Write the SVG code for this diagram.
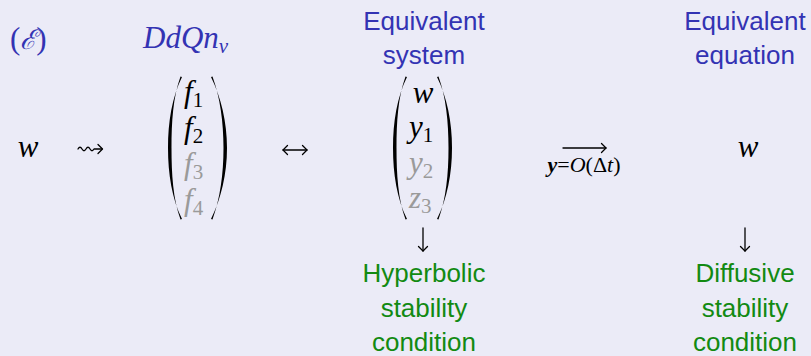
<svg xmlns="http://www.w3.org/2000/svg" width="811" height="356" viewBox="0 0 811 356">
<style>
.m{font-family:"Liberation Serif","DejaVu Serif",serif;font-style:italic;font-size:31px;fill:#000}
.sub{font-size:21px;font-style:normal}
.subi{font-size:21px;font-style:italic}
.g{fill:#9a9a9a}
.blue{fill:#3333B3}
.s{font-family:"Liberation Sans","DejaVu Sans",sans-serif;font-size:26px;text-anchor:middle}
.green{fill:#128a12}
.par{fill:#000;stroke:none}
.ln{stroke:#000;stroke-width:1.3;fill:none;stroke-linecap:round;stroke-linejoin:round}
</style>
<rect width="811" height="356" fill="#EBEBF7"/>

<g id="label-E">
<text class="m blue" x="10" y="49"><tspan style="font-style:normal">(</tspan><tspan style="font-family:'DejaVu Serif',serif;font-size:27px;font-style:italic">ℰ</tspan><tspan style="font-style:normal">)</tspan></text>
</g>
<g id="label-DdQnv">
<text class="m blue" x="143" y="48">DdQn<tspan class="subi" dy="5">v</tspan></text>
</g>
<g id="title-system">
<text class="s blue" x="424" y="30">Equivalent</text>
<text class="s blue" x="424" y="64">system</text>
</g>
<g id="title-equation">
<text class="s blue" x="745" y="30">Equivalent</text>
<text class="s blue" x="745" y="64">equation</text>
</g>

<g id="node-w-left">
<text class="m" x="28" y="157" text-anchor="middle">w</text>
</g>

<g id="node-f-vector">
<path class="par" d="M182,77 C172,97 168,122 168,148 C168,174 172,199 182,219 L180.5,219.5 C173,199 171.5,174 171.5,148 C171.5,122 173,97 180.5,76.5 Z"/>
<path class="par" d="M211,77 C221,97 227,122 227,148 C227,174 221,199 211,219 L212.5,219.5 C220,199 223.5,174 223.5,148 C223.5,122 220,97 212.5,76.5 Z"/>
<text class="m" x="184" y="102">f<tspan class="sub" dy="5">1</tspan></text>
<text class="m" x="184" y="138">f<tspan class="sub" dy="5">2</tspan></text>
<text class="m g" x="184" y="174">f<tspan class="sub" dy="5">3</tspan></text>
<text class="m g" x="184" y="210">f<tspan class="sub" dy="5">4</tspan></text>
</g>

<g id="node-system-vector">
<path class="par" d="M407,77 C397,97 393,122 393,148 C393,174 397,199 407,219 L405.5,219.5 C398,199 396.5,174 396.5,148 C396.5,122 398,97 405.5,76.5 Z"/>
<path class="par" d="M437,77 C447,97 452,122 452,148 C452,174 447,199 437,219 L438.5,219.5 C446,199 448.5,174 448.5,148 C448.5,122 446,97 438.5,76.5 Z"/>
<text class="m" x="423" y="103" text-anchor="middle">w</text>
<text class="m" x="409" y="137">y<tspan class="sub" dy="5">1</tspan></text>
<text class="m g" x="409" y="173">y<tspan class="sub" dy="5">2</tspan></text>
<text class="m g" x="409" y="208">z<tspan class="sub" dy="5">3</tspan></text>
</g>

<g id="node-w-right">
<text class="m" x="748" y="157" text-anchor="middle">w</text>
</g>

<g id="node-hyperbolic">
<text class="s green" x="424" y="282">Hyperbolic</text>
<text class="s green" x="424" y="317">stability</text>
<text class="s green" x="424" y="351">condition</text>
</g>
<g id="node-diffusive">
<text class="s green" x="745" y="282">Diffusive</text>
<text class="s green" x="745" y="317">stability</text>
<text class="s green" x="745" y="351">condition</text>
</g>

<g id="connectors">
<path class="ln" d="M78,149 q2,-3.5 4,0 t4,0 t4,0 t4,0 L102,149"/>
<path class="ln" d="M98,144.5 L102.5,149 L98,153.5"/>
<path class="ln" d="M283,150 L307,150"/>
<path class="ln" d="M287.5,145.5 L283,150 L287.5,154.5"/>
<path class="ln" d="M302.5,145.5 L307,150 L302.5,154.5"/>
<path class="ln" d="M563,148 L606,148"/>
<path class="ln" d="M601.5,143.5 L606,148 L601.5,152.5"/>
<text x="584" y="172" text-anchor="middle" font-family="Liberation Serif, serif" font-size="22"><tspan style="font-weight:bold;font-style:italic">y</tspan>=<tspan style="font-style:italic">O</tspan>(Δ<tspan style="font-style:italic">t</tspan>)</text>
<path class="ln" d="M423,228 L423,251"/>
<path class="ln" d="M418.5,246.5 L423,251 L427.5,246.5"/>
<path class="ln" d="M745,228 L745,251"/>
<path class="ln" d="M740.5,246.5 L745,251 L749.5,246.5"/>
</g>
</svg>
